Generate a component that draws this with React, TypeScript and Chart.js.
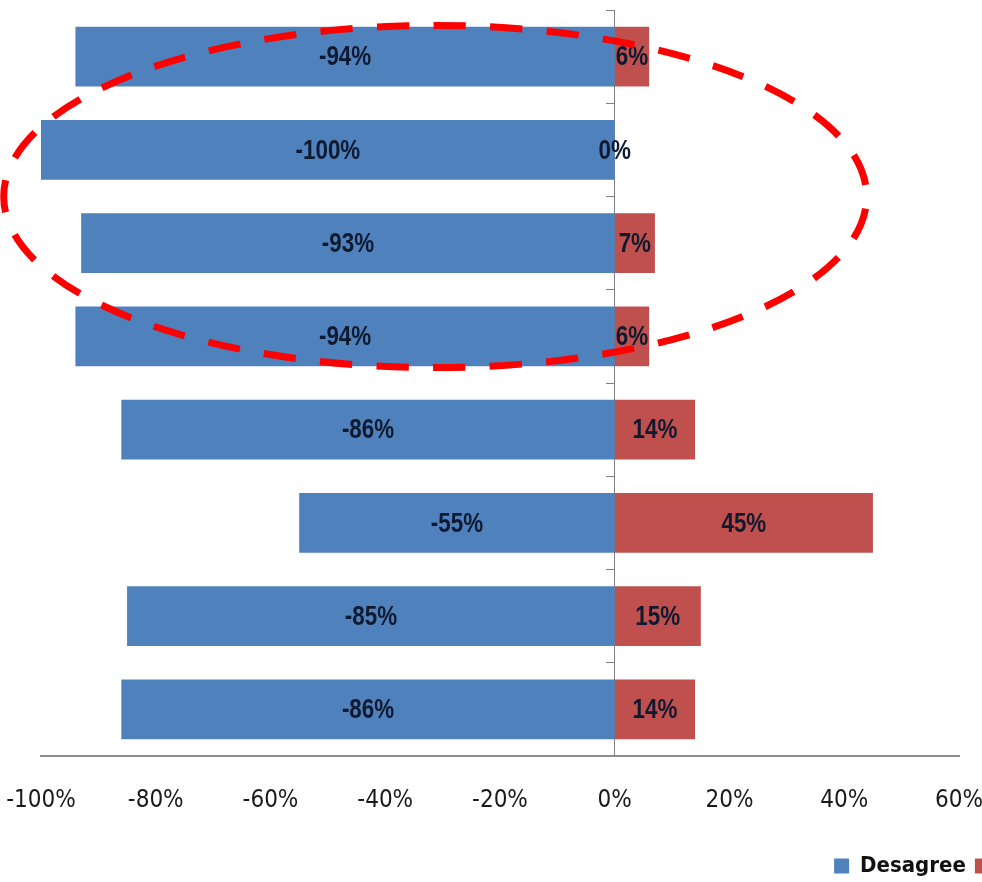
import React, { useEffect, useRef } from "react";
import { Chart, registerables } from "chart.js";

Chart.register(...registerables);

const categories = ["1", "2", "3", "4", "5", "6", "7", "8"];
const desagreeValues = [-94, -100, -93, -94, -86, -55, -85, -86];
const agreeValues = [6, 0, 7, 6, 14, 45, 15, 14];
const seriesNames = ["Desagree", "Agree"];
const xMin = -100;
const xMax = 60;
const xStep = 20;
// highlighted region (data coordinates): x value centre / radius, category index centre / radius
const ellipseX = -31.3;
const ellipseRX = 75.2;
const ellipseY = 1.5;
const ellipseRY = 1.835;

const FONT = "'Liberation Sans Narrow', 'DejaVu Sans Condensed', 'Arial Narrow', sans-serif";
const LABEL_FONT = "'Liberation Sans', Arial, sans-serif";

const barLabelPlugin = {
  id: "barLabels",
  afterDatasetsDraw(chart: any) {
    const ctx = chart.ctx;
    const xs = chart.scales.x;
    const sx = 0.8;
    ctx.save();
    ctx.font = `bold 28px ${LABEL_FONT}`;
    ctx.fillStyle = "#0f1a30";
    ctx.textAlign = "center";
    ctx.textBaseline = "middle";
    chart.data.datasets.forEach((ds: any, di: number) => {
      const meta = chart.getDatasetMeta(di);
      meta.data.forEach((el: any, i: number) => {
        const v = ds.data[i];
        const px = xs.getPixelForValue(v / 2);
        ctx.save();
        ctx.translate(px, el.y + 1);
        ctx.scale(sx, 1);
        ctx.fillText(`${v}%`, 0, 0);
        ctx.restore();
      });
    });
    ctx.restore();
  },
};

const ellipsePlugin = {
  id: "highlightEllipse",
  afterDraw(chart: any) {
    const xs = chart.scales.x;
    const ys = chart.scales.y;
    const cx = xs.getPixelForValue(ellipseX);
    const rx = Math.abs(xs.getPixelForValue(ellipseX + ellipseRX) - cx);
    const cy = ys.getPixelForValue(ellipseY);
    const ry = Math.abs(ys.getPixelForValue(ellipseY + ellipseRY) - cy);
    const perim = Math.PI * (3 * (rx + ry) - Math.sqrt((3 * rx + ry) * (rx + 3 * ry)));
    const n = Math.round(perim / 57);
    const period = perim / n;
    const dash = period * 0.57;
    const gap = period - dash;
    const ctx = chart.ctx;
    ctx.save();
    ctx.strokeStyle = "#ff0000";
    ctx.lineWidth = 7;
    ctx.setLineDash([dash, gap]);
    ctx.lineDashOffset = dash + gap / 2;
    ctx.beginPath();
    ctx.ellipse(cx, cy, rx, ry, 0, 0, Math.PI * 2);
    ctx.stroke();
    ctx.restore();
  },
};

export default function App() {
  const ref = useRef<HTMLCanvasElement>(null);
  useEffect(() => {
    document.body.style.margin = "0";
    const canvas = ref.current!;
    const chart = new Chart(canvas, {
      type: "bar",
      data: {
        labels: categories,
        datasets: [
          {
            label: seriesNames[0],
            data: desagreeValues,
            backgroundColor: "#4F81BD",
            borderWidth: 0,
            categoryPercentage: 1,
            barPercentage: 0.64,
          },
          {
            label: seriesNames[1],
            data: agreeValues,
            backgroundColor: "#C0504D",
            borderWidth: 0,
            categoryPercentage: 1,
            barPercentage: 0.64,
          },
        ],
      },
      options: {
        indexAxis: "y",
        responsive: false,
        animation: false,
        layout: { padding: { top: 10, left: 41, right: 0, bottom: 0 } },
        plugins: {
          tooltip: { enabled: false },
          legend: {
            position: "bottom",
            align: "end",
            labels: {
              boxWidth: 15,
              boxHeight: 15,
              padding: 9,
              color: "#111",
              font: { family: FONT, size: 22, weight: "bold" },
            },
          },
        },
        scales: {
          x: {
            type: "linear",
            stacked: true,
            min: xMin,
            max: xMax,
            position: "bottom",
            grid: { display: false, drawTicks: false },
            border: { display: true, color: "#8c8c8c", width: 2 },
            ticks: {
              stepSize: xStep,
              padding: 0,
              color: "#1a1a1a",
              font: { family: FONT, size: 24, lineHeight: 90 / 24 },
              callback: (v: any) => `${v}%`,
            },
          },
          y: {
            type: "category",
            stacked: true,
            position: { x: 0 } as any,
            offset: true,
            ticks: { display: false },
            grid: {
              display: true,
              offset: true,
              drawOnChartArea: false,
              drawTicks: true,
              tickLength: 8,
              color: "#7f7f7f",
            },
            border: { display: true, color: "#7f7f7f", width: 1 },
          },
          y2: {
            type: "category",
            position: "right",
            display: true,
            ticks: { display: false },
            grid: { display: false, drawTicks: false },
            border: { display: false },
            afterFit: (scale: any) => {
              scale.width = 117;
            },
          },
        },
      } as any,
      plugins: [barLabelPlugin, ellipsePlugin],
    });
    return () => chart.destroy();
  }, []);
  return (
    <div
      style={{
        position: "absolute",
        left: 0,
        top: 0,
        width: 982,
        height: 882,
        overflow: "hidden",
        background: "#ffffff",
      }}
    >
      <canvas ref={ref} width={1076} height={887} style={{ display: "block" }} />
    </div>
  );
}
